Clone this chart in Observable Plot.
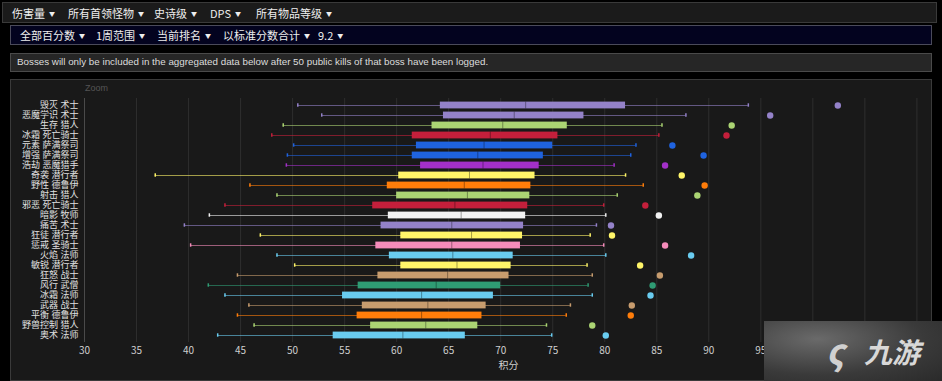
<!DOCTYPE html>
<html><head><meta charset="utf-8">
<script src="https://cdn.jsdelivr.net/npm/d3@7"></script>
<script src="https://cdn.jsdelivr.net/npm/@observablehq/plot@0.6"></script>
<style>
body{margin:0;background:#000;width:942px;height:381px;overflow:hidden;position:relative;font-family:"Noto Sans CJK SC","Noto Sans",sans-serif;}
.bar1{position:absolute;left:2px;top:2px;width:935px;height:21px;background:#1b1b1b;border:1px solid #3a3a3a;box-sizing:border-box;}
.bar2{position:absolute;left:10px;top:25px;width:922px;height:20px;background:#03031f;border:1px solid #4a4a5a;box-sizing:border-box;}
.info{position:absolute;left:10px;top:53px;width:922px;height:19px;background:#262626;border:1px solid #4a4a4a;box-sizing:border-box;}
.panel{position:absolute;left:10px;top:79px;width:922px;height:302px;background:#191919;border:1px solid #3a3a3a;box-sizing:border-box;}
.t{position:absolute;color:#eee;font-size:11px;white-space:nowrap;line-height:1;}
.t .c{font-size:6px;margin-left:4px;vertical-align:2px;}
.it{position:absolute;left:17px;top:57px;color:#ddd;font-size:9.8px;font-family:"Liberation Sans",Arial,sans-serif;line-height:1;}
.zoom{position:absolute;left:85px;top:83px;color:#555;font-size:9px;font-family:"Liberation Sans",Arial,sans-serif;}
.wm{position:absolute;left:764px;top:321px;width:178px;height:60px;background:radial-gradient(ellipse at 30% 30%,#6a6a6a,#3a3a3a 60%,#2a2a2a);}
.wm span{position:absolute;left:100px;top:16px;color:#d8d8d8;font-size:28px;font-weight:bold;font-style:italic;line-height:1;}
.wm b{position:absolute;left:62px;top:10px;color:#d0d0d0;font-size:36px;font-style:italic;line-height:1;}
#chart svg{position:absolute;left:0;top:0;}
#chart svg [aria-label^="y-axis"] text{font-size:9px;fill:#e0e0e0;font-family:"Liberation Sans","Noto Sans CJK SC",sans-serif;}
</style></head>
<body>
<div class="bar1"></div>
<div class="bar2"></div>
<div class="info"></div>
<div class="panel"></div>
<div class="t" style="left:12px;top:8px">伤害量<span class="c">▼</span></div>
<div class="t" style="left:68px;top:8px">所有首领怪物<span class="c">▼</span></div>
<div class="t" style="left:154px;top:8px">史诗级<span class="c">▼</span></div>
<div class="t" style="left:210px;top:8px">DPS<span class="c">▼</span></div>
<div class="t" style="left:256px;top:8px">所有物品等级<span class="c">▼</span></div>
<div class="t" style="left:20px;top:30px">全部百分数<span class="c">▼</span></div>
<div class="t" style="left:96px;top:30px">1周范围<span class="c">▼</span></div>
<div class="t" style="left:157px;top:30px">当前排名<span class="c">▼</span></div>
<div class="t" style="left:223px;top:30px">以标准分数合计<span class="c">▼</span></div>
<div class="t" style="left:318px;top:30px">9.2<span class="c">▼</span></div>
<div class="it">Bosses will only be included in the aggregated data below after 50 public kills of that boss have been logged.</div>
<div class="zoom">Zoom</div>
<div id="chart"></div>
<div class="wm"><b>ς</b><span>九游</span></div>
<script>
const labels = ["毁灭 术士","恶魔学识 术士","生存 猎人","冰霜 死亡骑士","元素 萨满祭司","增强 萨满祭司","浩劫 恶魔猎手","奇袭 潜行者","野性 德鲁伊","射击 猎人","邪恶 死亡骑士","暗影 牧师","痛苦 术士","狂徒 潜行者","惩戒 圣骑士","火焰 法师","敏锐 潜行者","狂怒 战士","风行 武僧","冰霜 法师","武器 战士","平衡 德鲁伊","野兽控制 猎人","奥术 法师"];
const classes = ["术士","术士","猎人","死亡骑士","萨满祭司","萨满祭司","恶魔猎手","潜行者","德鲁伊","猎人","死亡骑士","牧师","术士","潜行者","圣骑士","法师","潜行者","战士","武僧","法师","战士","德鲁伊","猎人","法师"];
const whiskerLow = [50.5,52.8,49.1,48.0,50.1,49.5,49.4,36.8,45.9,48.5,43.5,42.0,39.6,46.9,40.2,48.5,50.2,44.7,41.9,43.5,45.8,44.7,46.3,42.8];
const q1 = [64.2,64.5,63.4,61.5,61.9,61.5,62.3,60.2,59.1,60.0,57.7,59.2,58.5,60.4,58.0,59.3,60.4,58.2,56.3,54.8,56.7,56.2,57.5,53.9];
const median = [72.4,71.3,70.2,69.0,68.4,67.8,68.3,67.0,66.5,66.8,65.6,66.2,65.3,67.2,65.3,65.4,65.8,64.9,63.8,62.4,63.0,62.4,62.8,60.6];
const q3 = [82.0,78.0,76.4,75.5,75.0,74.1,73.7,73.3,72.9,72.8,72.6,72.4,72.2,72.1,71.9,71.2,71.0,70.8,70.0,69.3,68.6,68.2,67.8,66.6];
const whiskerHigh = [93.8,87.8,85.5,85.2,83.0,82.5,80.9,82.0,83.7,81.2,79.9,80.1,79.2,78.6,79.9,80.1,78.3,78.8,78.4,78.8,76.7,76.3,74.4,74.9];
const outlier = [102.4,95.9,92.2,91.7,86.5,89.5,85.8,87.4,89.6,88.9,83.9,85.2,80.6,80.7,85.8,88.3,83.4,85.3,84.6,84.4,82.6,82.5,78.8,80.1];
const gridTicks = [30,35,40,45,50,55,60,65,70,75,80,85,90,95,100,105,110];
const xTickLabels = [30,35,40,45,50,55,60,65,70,75,80,85,90,95];
const classNames = ["术士","猎人","死亡骑士","萨满祭司","恶魔猎手","潜行者","德鲁伊","牧师","圣骑士","法师","战士","武僧"];
const classColors = ["#9482C9","#ABD473","#C41F3B","#1f63e0","#A330C9","#FFF569","#FF7D0A","#F2F2F2","#F58CBA","#69CCF0","#C79C6E","#2f9c74"];

const rows = labels.map((label, i) => ({label, cls: classes[i], lo: whiskerLow[i], q1: q1[i], med: median[i], q3: q3[i], hi: whiskerHigh[i], out: outlier[i]}));

const svg = Plot.plot({
  width: 942, height: 381,
  marginLeft: 84, marginRight: 10, marginTop: 98, marginBottom: 39,
  style: {background: "transparent", color: "#cfcfcf", fontFamily: "'Noto Sans CJK SC', sans-serif", fontSize: "10px"},
  x: {domain: [30, 111.5], ticks: xTickLabels, tickSize: 0, tickPadding: 4, label: "积分", labelArrow: false, labelAnchor: "center", labelOffset: 26},
  y: {domain: labels, padding: 0, tickSize: 0, tickPadding: 6, label: null},
  color: {domain: classNames, range: classColors},
  marks: [
    Plot.ruleX(gridTicks, {stroke: "#2e2e2e"}),
    Plot.ruleX([30], {stroke: "#4a4a4a"}),
    Plot.ruleY(rows, {y: "label", x1: "lo", x2: "hi", stroke: "cls", strokeOpacity: 0.6}),
    Plot.tickX(rows, {x: "lo", y: "label", stroke: "cls", strokeWidth: 1.5, insetTop: 3.3, insetBottom: 3.3}),
    Plot.tickX(rows, {x: "hi", y: "label", stroke: "cls", strokeWidth: 1.5, insetTop: 3.3, insetBottom: 3.3}),
    Plot.barX(rows, {y: "label", x1: "q1", x2: "q3", fill: "cls", insetTop: 1.6, insetBottom: 1.6}),
    Plot.tickX(rows, {x: "med", y: "label", stroke: "#000", strokeOpacity: 0.35, insetTop: 1.6, insetBottom: 1.6}),
    Plot.dot(rows, {x: "out", y: "label", fill: "cls", r: 3.2})
  ]
});
document.getElementById("chart").appendChild(svg);
</script>
</body></html>
